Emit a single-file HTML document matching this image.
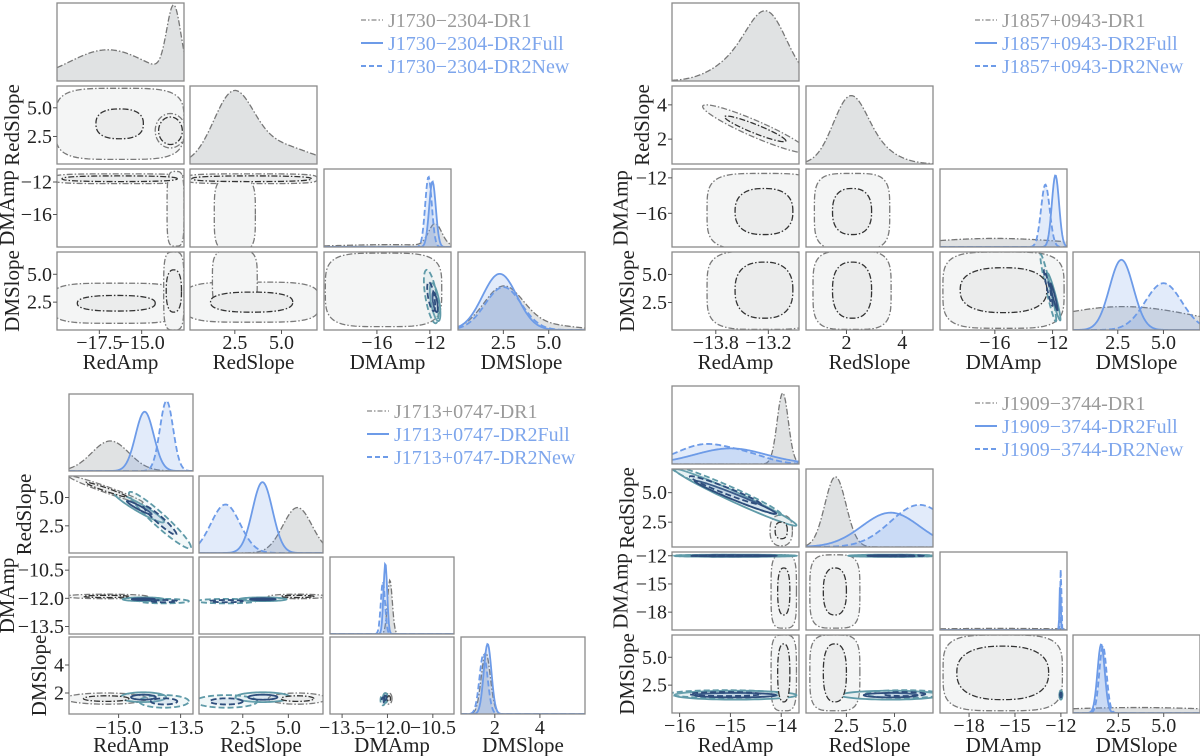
<!DOCTYPE html>
<html><head><meta charset="utf-8"><style>
html,body{margin:0;padding:0;background:#fff;}
svg{display:block;}
svg text{font-family:"Liberation Serif","DejaVu Serif",serif;}
</style></head><body>
<svg id="fig" width="1200" height="756" viewBox="0 0 1200 756" font-family="Liberation Serif, DejaVu Serif, serif"></svg>
<script>
// ---------- DATA ----------
const varNames = ["RedAmp","RedSlope","DMAmp","DMSlope"];
const seriesSuffix = ["DR1","DR2Full","DR2New"];
const pulsarNames = ["J1730\u22122304","J1857+0943","J1713+0747","J1909\u22123744"];

const rangesA = [[-20,-12.5],[0.1,6.9],[-20,-10.4],[0,7]];
const rangesB = [[-14.3,-12.85],[0.55,5.1],[-19.8,-11.0],[0.05,7]];
const rangesC = [[-16.2,-13.2],[0.1,6.9],[-13.9,-9.8],[0.5,6.0]];
const rangesD = [[-16.15,-13.65],[0.4,7.0],[-19.9,-11.6],[0,7]];

const ticksA = [[-17.5,-15.0],[2.5,5.0],[-16,-12],[2.5,5.0]];
const tickLabelsA = [["\u221217.5","\u221215.0"],["2.5","5.0"],["\u221216","\u221212"],["2.5","5.0"]];
const ticksB = [[-13.8,-13.2],[2,4],[-16,-12],[2.5,5.0]];
const tickLabelsB = [["\u221213.8","\u221213.2"],["2","4"],["\u221216","\u221212"],["2.5","5.0"]];
const ticksC = [[-15.0,-13.5],[2.5,5.0],[-13.5,-12.0,-10.5],[2,4]];
const tickLabelsC = [["\u221215.0","\u221213.5"],["2.5","5.0"],["\u221213.5","\u221212.0","\u221210.5"],["2","4"]];
const ticksD = [[-16,-15,-14],[2.5,5.0],[-18,-15,-12],[2.5,5.0]];
const tickLabelsD = [["\u221216","\u221215","\u221214"],["2.5","5.0"],["\u221218","\u221215","\u221212"],["2.5","5.0"]];

// marginal components: [variable, series, mean, sigma, height]
const margA = [
 [0,0,-17.0,2.3,0.40],[0,0,-13.1,0.42,0.88],
 [1,0,2.4,1.05,0.82],[1,0,4.6,1.8,0.25],
 [2,0,-15,4,0.03],[2,0,-11.6,0.5,0.28],[2,1,-11.8,0.25,0.84],[2,2,-12.1,0.25,0.90],
 [3,0,2.5,1.1,0.55],[3,0,5.0,1.5,0.06],[3,1,2.3,0.95,0.72],[3,2,2.5,1.0,0.55]
];
const margB = [
 [0,0,-13.2,0.22,0.72],[0,0,-13.5,0.3,0.28],
 [1,0,2.1,0.6,0.75],[1,0,2.9,0.8,0.2],
 [2,0,-16,5,0.11],[2,1,-11.8,0.25,0.92],[2,2,-12.5,0.3,0.80],
 [3,0,2.8,4,0.30],[3,1,2.7,0.65,0.90],[3,2,5.0,1.0,0.60]
];
const margC = [
 [0,0,-15.2,0.45,0.39],[0,1,-14.37,0.22,0.77],[0,2,-13.84,0.16,0.91],
 [1,0,5.5,0.8,0.59],[1,1,3.58,0.55,0.92],[1,2,1.55,0.8,0.63],
 [2,0,-11.92,0.08,0.70],[2,1,-12.07,0.06,0.92],[2,2,-12.15,0.07,0.68],
 [3,0,1.6,0.2,0.80],[3,1,1.68,0.17,0.91],[3,2,1.5,0.18,0.78]
];
const margD = [
 [0,0,-13.97,0.11,0.91],[0,1,-15.0,0.7,0.20],[0,2,-15.5,0.55,0.25],[0,2,-14.6,0.4,0.08],
 [1,0,1.93,0.55,0.90],[1,1,4.8,1.5,0.44],[1,2,6.3,1.5,0.54],
 [2,0,-16,5,0.02],[2,1,-12.05,0.04,0.60],[2,2,-12.0,0.035,0.85],
 [3,0,3.5,5,0.07],[3,1,1.55,0.2,0.88],[3,2,1.65,0.2,0.86]
];

// contours: [row, col, series, cx, cy, sx90, sy90, sx50, sy50, rho, p]
const contA = [
 [1,0,0,-16.3,3.6,3.8,3.1,1.4,1.3,0,4],[1,0,0,-13.3,3.0,0.9,1.5,0.7,1.2,0,2],
 [2,0,0,-16.3,-11.6,3.9,0.6,3.4,0.35,0,4],[2,0,0,-13.0,-15.3,0.5,4.6,0,0,0,4],
 [2,1,0,3.4,-11.6,3.5,0.6,3.2,0.35,0,4],[2,1,0,2.5,-16,1.1,4.5,0,0,0,4],
 [3,0,0,-16.5,2.4,3.8,1.8,2.3,0.7,0,4],[3,0,0,-13.1,3.5,0.6,3.5,0.45,1.9,0,4],
 [3,1,0,3.4,2.5,3.6,1.8,2.2,0.9,0,4],[3,1,0,2.5,4.5,1.2,2.7,0,0,0,4],
 [3,2,0,-15.5,3.6,4.4,3.3,0,0,0,4],
 [3,2,1,-11.6,2.5,0.4,1.7,0.2,0.9,-0.6,2],[3,2,2,-11.9,3.0,0.55,2.4,0.3,1.3,-0.6,2]
];
const contB = [
 [1,0,0,-13.35,2.6,0.6,1.4,0.35,0.75,-0.93,2],
 [2,0,0,-13.25,-15.8,0.65,4.3,0.33,2.6,0,4],
 [2,1,0,2.2,-15.8,1.35,4.3,0.7,2.6,0,4],
 [3,0,0,-13.25,3.6,0.65,3.5,0.33,2.5,0,4],
 [3,1,0,2.2,3.6,1.4,3.5,0.7,2.5,0,4],
 [3,2,0,-15.4,3.6,4.2,3.4,3.0,2.0,0,4],
 [3,2,1,-11.9,3.0,0.45,2.1,0.25,1.2,-0.95,2],[3,2,2,-12.3,3.8,0.55,3.0,0.3,1.6,-0.95,2]
];
const contC = [
 [1,0,0,-15.3,5.7,0.9,1.2,0.5,0.65,-0.97,2],[1,0,1,-14.5,4.1,0.6,1.3,0.3,0.6,-0.95,2],[1,0,2,-14.0,3.0,0.75,2.5,0.4,1.3,-0.95,2],
 [2,0,0,-15.3,-11.9,1.0,0.12,0.55,0.06,0,2],[2,0,1,-14.4,-12.05,0.5,0.1,0.28,0.05,0,2],[2,0,2,-13.9,-12.15,0.6,0.12,0.32,0.06,0,2],
 [2,1,0,5.5,-11.9,1.6,0.12,0.9,0.06,0,2],[2,1,1,3.6,-12.05,1.3,0.1,0.7,0.05,0,2],[2,1,2,1.6,-12.15,1.6,0.12,0.9,0.06,0,2],
 [3,0,0,-15.3,1.6,1.0,0.4,0.55,0.2,0,2],[3,0,1,-14.4,1.7,0.55,0.35,0.3,0.18,0,2],[3,0,2,-13.9,1.4,0.6,0.45,0.32,0.22,0,2],
 [3,1,0,5.5,1.6,1.6,0.4,0.9,0.2,0,2],[3,1,1,3.6,1.7,1.5,0.35,0.8,0.18,0,2],[3,1,2,1.6,1.4,1.7,0.45,0.9,0.22,0,2],
 [3,2,0,-11.95,1.6,0.1,0.4,0.05,0.2,0,2],[3,2,1,-12.07,1.65,0.08,0.35,0.04,0.17,0,2],[3,2,2,-12.15,1.5,0.08,0.38,0.04,0.18,0,2]
];
const contD = [
 [1,0,0,-14.0,1.8,0.22,1.3,0.12,0.7,0,2.5],[1,0,1,-14.9,4.6,1.2,2.4,0.8,1.4,-0.98,2],[1,0,2,-15.1,5.2,1.1,2.1,0.7,1.2,-0.97,2],
 [2,0,0,-13.95,-15.8,0.25,3.9,0.12,2.5,0,4],[2,0,1,-14.9,-12.0,1.2,0.12,0.8,0.07,0,2],[2,0,2,-15.1,-12.0,1.1,0.1,0.7,0.05,0,2],
 [2,1,0,1.9,-15.8,1.3,3.9,0.6,2.5,0,4],[2,1,1,4.8,-12.0,2.2,0.12,1.2,0.07,0,2],[2,1,2,5.5,-12.0,1.8,0.1,1.0,0.05,0,2],
 [3,0,0,-13.95,3.6,0.25,3.4,0.12,2.6,0,4],[3,0,1,-14.9,1.6,1.2,0.4,0.8,0.2,0,2],[3,0,2,-15.1,1.7,1.1,0.35,0.7,0.18,0,2],
 [3,1,0,1.9,3.6,1.3,3.4,0.6,2.6,0,4],[3,1,1,4.8,1.6,2.6,0.4,1.4,0.2,0,2],[3,1,2,5.5,1.7,2.0,0.35,1.1,0.18,0,2],
 [3,2,0,-15.8,3.6,3.9,3.4,3.0,2.4,0,4],[3,2,1,-12.0,1.6,0.1,0.4,0.05,0.2,0,2],[3,2,2,-12.0,1.65,0.1,0.38,0.05,0.19,0,2]
];

// ---------- LAYOUT ----------
const plots = [
 {key:"a",name:0,ranges:rangesA,ticks:ticksA,labels:tickLabelsA,marg:margA,cont:contA,cols:[57,190,324,458],w:127,rows:[3,86,169,252],h:78,tickY:349,labY:369,legX:361,legY:[20,43,66]},
 {key:"b",name:1,ranges:rangesB,ticks:ticksB,labels:tickLabelsB,marg:margB,cont:contB,cols:[672,806,940,1073],w:127,rows:[3,86,169,252],h:78,tickY:349,labY:369,legX:975,legY:[20,43,66]},
 {key:"c",name:2,ranges:rangesC,ticks:ticksC,labels:tickLabelsC,marg:margC,cont:contC,cols:[69,199,330,461],w:124,rows:[394,476,557,637],h:77,tickY:734,labY:752,legX:367,legY:[411,434,457]},
 {key:"d",name:3,ranges:rangesD,ticks:ticksD,labels:tickLabelsD,marg:margD,cont:contD,cols:[672,806,940,1073],w:127,rows:[386,469,552,635],h:78,tickY:732,labY:752,legX:975,legY:[403,426,449]}
];
const NS="http://www.w3.org/2000/svg";
const FF="Liberation Serif, DejaVu Serif, serif";
const svg=document.getElementById("fig");
function mk(tag,attrs,parent){const e=document.createElementNS(NS,tag);for(const k in attrs)e.setAttribute(k,attrs[k]);if(tag==="text")e.setAttribute("font-family",FF);(parent||svg).appendChild(e);return e;}
const lineStyle=[{dash:"6 2 1.5 2",c:"#777",ci:"#333",co:"#7a7a7a"},{dash:"",c:"#6d9be8",ci:"#2e4d7c",co:"#5f9aa8"},{dash:"6 3",c:"#6d9be8",ci:"#2e4d7c",co:"#5f9aa8"}];
const margFill=["#e0e2e3","rgba(109,155,232,0.2)","rgba(109,155,232,0.2)"];
const fill90=["#f4f5f5","rgba(170,205,215,0.15)","rgba(170,205,215,0.15)"];
const fill50=["#ebecec","rgba(120,160,200,0.18)","rgba(120,160,200,0.18)"];

function xs(p,v,val){const r=p.ranges[v];return p.cols[v]+(val-r[0])/(r[1]-r[0])*p.w;}
function ys(p,row,v,val){const r=p.ranges[v];return p.rows[row]+p.h-(val-r[0])/(r[1]-r[0])*p.h;}
function shapePath(p,row,col,cx,cy,sx,sy,rho,pw){
  let d="";const n=90;const q=Math.sqrt(Math.max(0,1-rho*rho));
  for(let i=0;i<=n;i++){const t=i/n*2*Math.PI;const c=Math.cos(t),s=Math.sin(t);
    const u=Math.sign(c)*Math.pow(Math.abs(c),2/pw),v=Math.sign(s)*Math.pow(Math.abs(s),2/pw);
    const X=cx+sx*u,Y=cy+sy*(rho*u+q*v);
    d+=(i?"L":"M")+xs(p,col,X).toFixed(2)+","+ys(p,row,row,Y).toFixed(2);}
  return d+"Z";}

plots.forEach((p,pi)=>{
  const g=mk("g",{});
  
  
  for(let r=0;r<4;r++)for(let c=0;c<=r;c++){
    const x0=p.cols[c],y0=p.rows[r];
    const cid="clip"+p.key+r+c;
    const cp=mk("clipPath",{id:cid},g);mk("rect",{x:x0,y:y0,width:p.w,height:p.h},cp);
    const pg=mk("g",{"clip-path":"url(#"+cid+")"},g);
    
    
    if(r===c){
      for(let s=0;s<3;s++){
        const comps=p.marg.filter(m=>m[0]===r&&m[1]===s);if(!comps.length)continue;
        let d="";const n=160;
        for(let i=0;i<=n;i++){const rg=p.ranges[r];const val=rg[0]+(rg[1]-rg[0])*i/n;
          let dens=0;comps.forEach(m=>{dens+=m[4]*Math.exp(-0.5*Math.pow((val-m[2])/m[3],2));});
          d+=(i?"L":"M")+xs(p,r,val).toFixed(2)+","+(y0+p.h-dens*p.h).toFixed(2);}
        const area=mk("path",{d:d+"L"+(x0+p.w)+","+(y0+p.h)+"L"+x0+","+(y0+p.h)+"Z",fill:margFill[s],stroke:"none"},pg);
        
        
        const ln=mk("path",{d:d,fill:"none",stroke:lineStyle[s].c,"stroke-width":s?1.8:1.3,"stroke-dasharray":lineStyle[s].dash},pg);
        
        
      }
    } else {
      const cs=p.cont.filter(k=>k[0]===r&&k[1]===c);
      [0,1].forEach(level=>{
        cs.forEach(k=>{const s=k[2];
          const sx=level?k[7]:k[5],sy=level?k[8]:k[6];if(!sx)return;
          const pw=level?Math.min(k[10],2.5):k[10];
          const path=mk("path",{d:shapePath(p,r,c,k[3],k[4],sx,sy,k[9],pw),fill:level?fill50[s]:fill90[s],stroke:level?lineStyle[s].ci:lineStyle[s].co,"stroke-width":s?1.8:1.3,"stroke-dasharray":lineStyle[s].dash},pg);
          
          
        });
      });
    }
    const fr=mk("rect",{x:x0,y:y0,width:p.w,height:p.h,fill:"none",stroke:"#8a8a8a","stroke-width":1.3},g);
    
    
    if(r===3){
      p.ticks[c].forEach((t,ti)=>{const X=xs(p,c,t);
        mk("line",{x1:X,x2:X,y1:y0+p.h,y2:y0+p.h+4,stroke:"#555","stroke-width":1},g);
        const tx=mk("text",{x:X,y:p.tickY,"text-anchor":"middle","font-size":20,fill:"#222"},g);tx.textContent=p.labels[c][ti];
        
        });
      const lb=mk("text",{x:x0+p.w/2,y:p.labY,"text-anchor":"middle","font-size":21,fill:"#222"},g);lb.textContent=varNames[c];
      
      
    }
    if(c===0&&r>0){
      let minX=x0;
      p.ticks[r].forEach((t,ti)=>{const Y=ys(p,r,r,t);
        mk("line",{x1:x0-4,x2:x0,y1:Y,y2:Y,stroke:"#555","stroke-width":1},g);
        const tx=mk("text",{x:x0-5,y:Y+6.5,"text-anchor":"end","font-size":20,fill:"#222"},g);tx.textContent=p.labels[r][ti];
        
        
        const w=tx.getComputedTextLength?tx.getComputedTextLength():30;minX=Math.min(minX,x0-5-w);});
      const cy=y0+p.h/2,lx=Math.max(14,minX-8);
      const lb=mk("text",{x:lx,y:cy,"text-anchor":"middle","font-size":21,fill:"#222",transform:"rotate(-90 "+lx+" "+cy+")"},g);lb.textContent=varNames[r];
      
      
    }
  }
  const lg=mk("g",{},g);
  
  
  for(let s=0;s<3;s++){const Y=p.legY[s];
    const e=mk("g",{},lg);
    
    
    mk("line",{x1:p.legX,x2:p.legX+22,y1:Y,y2:Y,stroke:s?"#6d9be8":"#888","stroke-width":s?2:1.3,"stroke-dasharray":s===0?"5 2 1.5 2":(s===2?"5 3":"")},e);
    const t=mk("text",{x:p.legX+27,y:Y+7,"font-size":20,fill:s?"#7ea6ec":"#9a9a9a"},e);
    t.textContent=pulsarNames[p.name]+"-"+seriesSuffix[s];}
});
</script>
</body></html>
